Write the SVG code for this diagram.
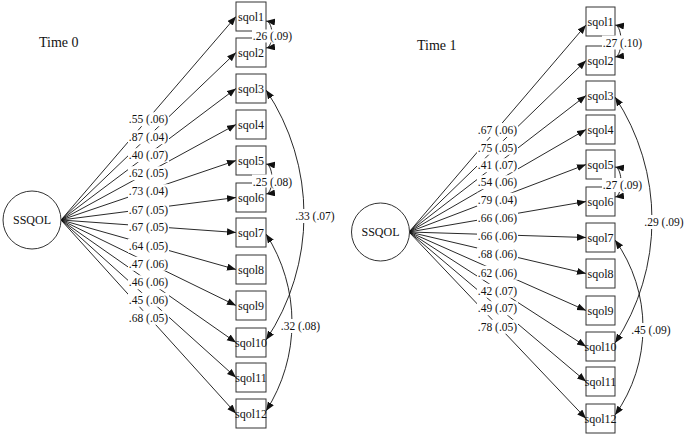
<svg xmlns="http://www.w3.org/2000/svg" width="685" height="436" viewBox="0 0 685 436">
<style>
text{font-family:"Liberation Serif","Times New Roman",serif;fill:#111}
.t{font-size:14px}
.n{font-size:12px;text-anchor:middle}
.l{font-size:11.5px;text-anchor:middle}
.box{fill:#fff;stroke:#333;stroke-width:1}
.lat{fill:#fff;stroke:#333;stroke-width:1}
.ln{fill:none;stroke:#111;stroke-width:0.9}
.a{marker-end:url(#ah)}
.c{marker-start:url(#ah);marker-end:url(#ah)}
.bg{fill:#fff}
</style>
<defs>
<marker id="ah" markerUnits="userSpaceOnUse" markerWidth="10" markerHeight="8" refX="9" refY="3.5" orient="auto-start-reverse">
<path d="M0,0 L9,3.5 L0,7 z" fill="#111"/>
</marker>
</defs>
<rect width="685" height="436" fill="#fff"/>
<text class="t" x="39" y="47">Time 0</text>
<text class="t" x="417" y="50">Time 1</text>

<g id="connectors">
<!-- Time 0 loadings -->
<line class="ln a" x1="61" y1="220" x2="236" y2="16.5"/>
<line class="ln a" x1="61" y1="220" x2="236" y2="52.5"/>
<line class="ln a" x1="61" y1="220" x2="236" y2="88.5"/>
<line class="ln a" x1="61" y1="220" x2="236" y2="124.5"/>
<line class="ln a" x1="61" y1="220" x2="236" y2="160.5"/>
<line class="ln a" x1="61" y1="220" x2="236" y2="197.5"/>
<line class="ln a" x1="61" y1="220" x2="236" y2="232.5"/>
<line class="ln a" x1="61" y1="220" x2="236" y2="269.5"/>
<line class="ln a" x1="61" y1="220" x2="236" y2="305.5"/>
<line class="ln a" x1="61" y1="220" x2="236" y2="342.5"/>
<line class="ln a" x1="61" y1="220" x2="236" y2="377.5"/>
<line class="ln a" x1="61" y1="220" x2="236" y2="413.5"/>
<!-- Time 0 covariances -->
<path class="ln c" d="M266,21 C274,22 274,47 266,48"/>
<path class="ln c" d="M266,164 C274,165 274,193 266,194"/>
<path class="ln c" d="M266,90 A224.6 224.6 0 0 1 266,340"/>
<path class="ln c" d="M266,234 A163.6 163.6 0 0 1 266,411"/>
<!-- Time 1 loadings -->
<line class="ln a" x1="409" y1="232" x2="586" y2="25"/>
<line class="ln a" x1="409" y1="232" x2="586" y2="60.5"/>
<line class="ln a" x1="409" y1="232" x2="586" y2="95.5"/>
<line class="ln a" x1="409" y1="232" x2="586" y2="129.5"/>
<line class="ln a" x1="409" y1="232" x2="586" y2="164.5"/>
<line class="ln a" x1="409" y1="232" x2="586" y2="201.5"/>
<line class="ln a" x1="409" y1="232" x2="586" y2="237.5"/>
<line class="ln a" x1="409" y1="232" x2="586" y2="273.5"/>
<line class="ln a" x1="409" y1="232" x2="586" y2="310.5"/>
<line class="ln a" x1="409" y1="232" x2="586" y2="346.5"/>
<line class="ln a" x1="409" y1="232" x2="586" y2="381.5"/>
<line class="ln a" x1="409" y1="232" x2="586" y2="418.5"/>
<!-- Time 1 covariances -->
<path class="ln c" d="M615,25 C623,26 623,56 615,57"/>
<path class="ln c" d="M615,167 C623,168 623,196 615,197"/>
<path class="ln c" d="M615,97 A223 223 0 0 1 615,343"/>
<path class="ln c" d="M615,240 A150.7 150.7 0 0 1 615,415"/>
</g>

<g id="ssqol_t0"><circle class="lat" cx="32" cy="220" r="29"/><text class="n" x="32" y="224">SSQOL</text></g>
<g id="t0_sqol1"><rect class="box" x="236" y="2" width="30" height="29"/><text class="n" x="251" y="21">sqol1</text></g>
<g id="t0_sqol2"><rect class="box" x="236" y="38" width="30" height="29"/><text class="n" x="251" y="57">sqol2</text></g>
<g id="t0_sqol3"><rect class="box" x="236" y="74" width="30" height="29"/><text class="n" x="251" y="93">sqol3</text></g>
<g id="t0_sqol4"><rect class="box" x="236" y="110" width="30" height="29"/><text class="n" x="251" y="129">sqol4</text></g>
<g id="t0_sqol5"><rect class="box" x="236" y="146" width="30" height="29"/><text class="n" x="251" y="165">sqol5</text></g>
<g id="t0_sqol6"><rect class="box" x="236" y="183" width="30" height="29"/><text class="n" x="251" y="202">sqol6</text></g>
<g id="t0_sqol7"><rect class="box" x="236" y="218" width="30" height="29"/><text class="n" x="251" y="237">sqol7</text></g>
<g id="t0_sqol8"><rect class="box" x="236" y="255" width="30" height="29"/><text class="n" x="251" y="274">sqol8</text></g>
<g id="t0_sqol9"><rect class="box" x="236" y="291" width="30" height="29"/><text class="n" x="251" y="310">sqol9</text></g>
<g id="t0_sqol10"><rect class="box" x="236" y="328" width="30" height="29"/><text class="n" x="251" y="347">sqol10</text></g>
<g id="t0_sqol11"><rect class="box" x="236" y="363" width="30" height="29"/><text class="n" x="251" y="382">sqol11</text></g>
<g id="t0_sqol12"><rect class="box" x="236" y="399" width="30" height="29"/><text class="n" x="251" y="418">sqol12</text></g>

<g id="ssqol_t1"><circle class="lat" cx="380.5" cy="232" r="29"/><text class="n" x="380.5" y="236">SSQOL</text></g>
<g id="t1_sqol1"><rect class="box" x="586" y="7" width="29" height="29"/><text class="n" x="600.5" y="26">sqol1</text></g>
<g id="t1_sqol2"><rect class="box" x="586" y="46" width="29" height="29"/><text class="n" x="600.5" y="65">sqol2</text></g>
<g id="t1_sqol3"><rect class="box" x="586" y="81" width="29" height="29"/><text class="n" x="600.5" y="100">sqol3</text></g>
<g id="t1_sqol4"><rect class="box" x="586" y="115" width="29" height="29"/><text class="n" x="600.5" y="134">sqol4</text></g>
<g id="t1_sqol5"><rect class="box" x="586" y="150" width="29" height="29"/><text class="n" x="600.5" y="169">sqol5</text></g>
<g id="t1_sqol6"><rect class="box" x="586" y="187" width="29" height="29"/><text class="n" x="600.5" y="206">sqol6</text></g>
<g id="t1_sqol7"><rect class="box" x="586" y="223" width="29" height="29"/><text class="n" x="600.5" y="242">sqol7</text></g>
<g id="t1_sqol8"><rect class="box" x="586" y="259" width="29" height="29"/><text class="n" x="600.5" y="278">sqol8</text></g>
<g id="t1_sqol9"><rect class="box" x="586" y="296" width="29" height="29"/><text class="n" x="600.5" y="315">sqol9</text></g>
<g id="t1_sqol10"><rect class="box" x="586" y="332" width="29" height="29"/><text class="n" x="600.5" y="351">sqol10</text></g>
<g id="t1_sqol11"><rect class="box" x="586" y="367" width="29" height="29"/><text class="n" x="600.5" y="386">sqol11</text></g>
<g id="t1_sqol12"><rect class="box" x="586" y="404" width="29" height="29"/><text class="n" x="600.5" y="423">sqol12</text></g>

<g id="labels">
<g class="bg">
<rect x="128" y="112.25" width="41" height="14"/>
<rect x="128" y="130.25" width="41" height="14"/>
<rect x="128" y="148.25" width="41" height="14"/>
<rect x="128" y="166.25" width="41" height="14"/>
<rect x="128" y="184.25" width="41" height="14"/>
<rect x="128" y="202.75" width="41" height="14"/>
<rect x="128" y="220.25" width="41" height="14"/>
<rect x="128" y="238.75" width="41" height="14"/>
<rect x="128" y="256.75" width="41" height="14"/>
<rect x="128" y="275.25" width="41" height="14"/>
<rect x="128" y="292.75" width="41" height="14"/>
<rect x="128" y="310.75" width="41" height="14"/>
<rect x="252" y="29.5" width="41" height="13"/>
<rect x="252" y="174.5" width="41" height="13"/>
<rect x="294.5" y="209" width="41" height="14"/>
<rect x="280" y="319" width="41" height="14"/>
<rect x="477" y="123" width="41" height="14"/>
<rect x="477" y="140.75" width="41" height="14"/>
<rect x="477" y="158.25" width="41" height="14"/>
<rect x="477" y="175.25" width="41" height="14"/>
<rect x="477" y="192.75" width="41" height="14"/>
<rect x="477" y="211.25" width="41" height="14"/>
<rect x="477" y="229.25" width="41" height="14"/>
<rect x="477" y="247.25" width="41" height="14"/>
<rect x="477" y="265.75" width="41" height="14"/>
<rect x="477" y="283.75" width="41" height="14"/>
<rect x="477" y="301.25" width="41" height="14"/>
<rect x="477" y="319.75" width="41" height="14"/>
<rect x="602" y="35.5" width="41" height="14"/>
<rect x="602" y="178" width="41" height="14"/>
<rect x="643.5" y="215" width="41" height="14"/>
<rect x="630.5" y="323" width="41" height="14"/>
</g>
<text class="l" x="148.5" y="123.25">.55 (.06)</text>
<text class="l" x="148.5" y="141.25">.87 (.04)</text>
<text class="l" x="148.5" y="159.25">.40 (.07)</text>
<text class="l" x="148.5" y="177.25">.62 (.05)</text>
<text class="l" x="148.5" y="195.25">.73 (.04)</text>
<text class="l" x="148.5" y="213.75">.67 (.05)</text>
<text class="l" x="148.5" y="231.25">.67 (.05)</text>
<text class="l" x="148.5" y="249.75">.64 (.05)</text>
<text class="l" x="148.5" y="267.75">.47 (.06)</text>
<text class="l" x="148.5" y="286.25">.46 (.06)</text>
<text class="l" x="148.5" y="303.75">.45 (.06)</text>
<text class="l" x="148.5" y="321.75">.68 (.05)</text>
<text class="l" x="272.5" y="40">.26 (.09)</text>
<text class="l" x="272.5" y="185.5">.25 (.08)</text>
<text class="l" x="315" y="220">.33 (.07)</text>
<text class="l" x="300.5" y="330">.32 (.08)</text>
<text class="l" x="497.5" y="134">.67 (.06)</text>
<text class="l" x="497.5" y="151.75">.75 (.05)</text>
<text class="l" x="497.5" y="169.25">.41 (.07)</text>
<text class="l" x="497.5" y="186.25">.54 (.06)</text>
<text class="l" x="497.5" y="203.75">.79 (.04)</text>
<text class="l" x="497.5" y="222.25">.66 (.06)</text>
<text class="l" x="497.5" y="240.25">.66 (.06)</text>
<text class="l" x="497.5" y="258.25">.68 (.06)</text>
<text class="l" x="497.5" y="276.75">.62 (.06)</text>
<text class="l" x="497.5" y="294.75">.42 (.07)</text>
<text class="l" x="497.5" y="312.25">.49 (.07)</text>
<text class="l" x="497.5" y="330.75">.78 (.05)</text>
<text class="l" x="622.5" y="47">.27 (.10)</text>
<text class="l" x="622.5" y="189">.27 (.09)</text>
<text class="l" x="664" y="226">.29 (.09)</text>
<text class="l" x="651" y="334">.45 (.09)</text>
</g>
</svg>
